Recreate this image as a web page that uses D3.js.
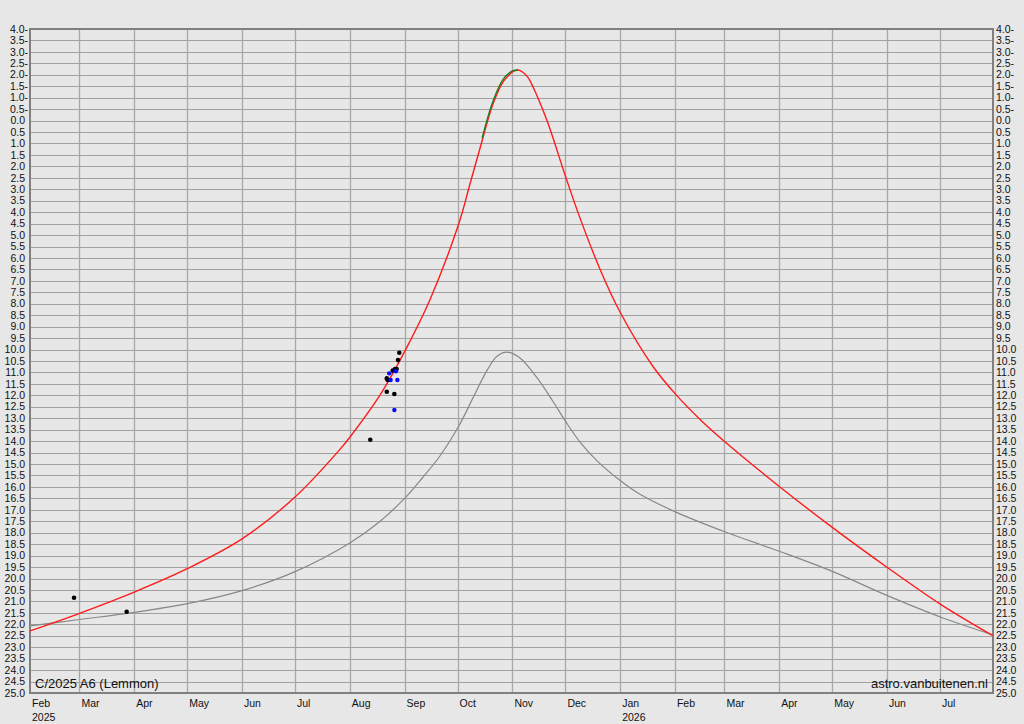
<!DOCTYPE html>
<html>
<head>
<meta charset="utf-8">
<script src="https://cdn.jsdelivr.net/npm/d3@7"></script>
<style>
  html, body { margin: 0; padding: 0; background: #e7e7e7; }
  svg { display: block; }
  text { font-family: "Liberation Sans", Arial, sans-serif; fill: #111; }
</style>
</head>
<body>
<svg id="chart" width="1024" height="724"></svg>
<script>
// ---- data ----
const redDates = ["2025-02-01","2025-03-01","2025-04-01","2025-05-01","2025-06-01","2025-07-01","2025-07-26T10:00","2025-08-01","2025-08-18","2025-08-25T10:00","2025-09-01T05:00","2025-09-15T10:00","2025-10-01T20:00","2025-10-08","2025-10-14T20:00","2025-10-21","2025-10-26T17:00","2025-10-30T14:00","2025-11-01T05:00","2025-11-04T05:00","2025-11-06T22:00","2025-11-09T17:00","2025-11-12T17:00","2025-11-20T14:00","2025-12-01T07:00","2025-12-09T07:00","2025-12-20T14:00","2025-12-31T22:00","2026-01-19T14:00","2026-02-01T14:00","2026-02-15T05:00","2026-03-01T22:00","2026-04-01T10:00","2026-05-01T10:00","2026-06-01T14:00","2026-07-01T14:00","2026-07-31"];
const redMags  = [22.29,21.52,20.59,19.57,18.27,16.44,14.36,13.83,12.00,11.03,10.06,7.81,4.46,2.77,0.89,-0.72,-1.69,-2.03,-2.14,-2.21,-2.11,-1.90,-1.47,0.00,2.49,4.26,6.49,8.36,10.74,11.97,13.05,14.07,16.00,17.79,19.54,21.14,22.50];

const greenDates = ["2025-10-14T20:00","2025-10-21","2025-10-26T17:00","2025-10-30T14:00","2025-11-01T05:00","2025-11-04T05:00"];
const greenMags  = [0.77,-0.85,-1.80,-2.10,-2.18,-2.21];

const greyDates = ["2025-02-01","2025-03-01","2025-04-01","2025-05-01","2025-06-01","2025-07-01","2025-08-01","2025-08-18","2025-09-01","2025-09-11","2025-09-21","2025-10-01T20:00","2025-10-09T17:00","2025-10-17T14:00","2025-10-23T07:00","2025-10-28T22:00","2025-11-05T07:00","2025-11-14T22:00","2025-11-24","2025-12-01T07:00","2025-12-09T07:00","2025-12-18T22:00","2026-01-01","2026-01-12T05:00","2026-02-01T14:00","2026-03-01T22:00","2026-04-01T10:00","2026-05-01T10:00","2026-06-01T14:00","2026-07-01T14:00","2026-07-31"];
const greyMags  = [22.07,21.79,21.48,21.10,20.53,19.70,18.45,17.51,16.50,15.61,14.65,13.32,12.11,10.92,10.29,10.11,10.37,11.23,12.27,13.16,14.04,14.86,15.72,16.32,17.10,17.98,18.82,19.70,20.76,21.69,22.46];

const blackObsDates = ["2025-02-25T22:00","2025-03-27T17:00","2025-08-12T14:00","2025-08-21T22:00","2025-08-21T22:00","2025-08-22T10:00","2025-08-25T07:00","2025-08-26T14:00","2025-08-27T12:00","2025-08-28T07:00","2025-08-29T00:00","2025-08-26T05:00"];
const blackObsMags  = [20.84,21.45,13.94,11.84,11.26,11.33,10.92,10.85,10.85,10.46,10.14,11.94];

const blueObsDates = ["2025-08-23T07:00","2025-08-24T02:00","2025-08-27T02:00","2025-08-27T22:00","2025-08-26T05:00"];
const blueObsMags  = [11.04,11.33,10.95,11.33,12.64];

const yTicks = d3.range(-4, 25.001, 0.5);
const monthStarts = d3.timeMonth.range(new Date(2025,1,1), new Date(2026,6,2));
const monthNames = ["Jan","Feb","Mar","Apr","May","Jun","Jul","Aug","Sep","Oct","Nov","Dec"];

const title = "C/2025 A6 (Lemmon)";
const credit = "astro.vanbuitenen.nl";

// ---- layout ----
const svg = d3.select("#chart");
const L = 30, R = 993, T = 29, B = 693;
const x = d3.scaleTime().domain([new Date(2025,1,1), new Date(2026,6,31)]).range([L, R]);
const y = d3.scaleLinear().domain([-4, 25]).range([T, B]);
const P = s => new Date(s.length === 10 ? s + "T00:00" : s);

svg.append("rect").attr("width",1024).attr("height",724).attr("fill","#e7e7e7");

// grid
const g = svg.append("g");
g.selectAll(".hg").data(yTicks).join("line")
  .attr("x1", L).attr("x2", R)
  .attr("y1", d => Math.round(y(d)) + 0.5).attr("y2", d => Math.round(y(d)) + 0.5)
  .attr("stroke", "#a0a0a0").attr("stroke-width", 1);
g.selectAll(".vg").data(monthStarts.slice(1)).join("line")
  .attr("x1", d => Math.round(x(d)) + 0.5).attr("x2", d => Math.round(x(d)) + 0.5)
  .attr("y1", T).attr("y2", B)
  .attr("stroke", "#a8a8a8").attr("stroke-width", 1.3);

// frame
svg.append("rect").attr("x", L).attr("y", T).attr("width", R - L).attr("height", B - T)
  .attr("fill", "none").attr("stroke", "#7f7f7f").attr("stroke-width", 2);

// clip
svg.append("clipPath").attr("id","clip").append("rect")
  .attr("x", L).attr("y", T).attr("width", R - L).attr("height", B - T);

const line = d3.line().x(d => x(d[0])).y(d => y(d[1])).curve(d3.curveCatmullRom.alpha(0.5));
const plot = svg.append("g").attr("clip-path","url(#clip)");

plot.append("path").datum(greyDates.map((d,i)=>[P(d), greyMags[i]]))
  .attr("d", line).attr("fill","none").attr("stroke","#888").attr("stroke-width",1.2);
plot.append("path").datum(redDates.map((d,i)=>[P(d), redMags[i]]))
  .attr("d", line).attr("fill","none").attr("stroke","#ff1a1a").attr("stroke-width",1.4);
plot.append("path").datum(greenDates.map((d,i)=>[P(d), greenMags[i]]))
  .attr("d", line).attr("fill","none").attr("stroke","#1a7f1a").attr("stroke-width",1.3);

plot.selectAll(".bo").data(blackObsDates.map((d,i)=>[P(d), blackObsMags[i]])).join("circle")
  .attr("cx", d => x(d[0])).attr("cy", d => y(d[1])).attr("r", 2.3).attr("fill", "#000");
plot.selectAll(".bl").data(blueObsDates.map((d,i)=>[P(d), blueObsMags[i]])).join("circle")
  .attr("cx", d => x(d[0])).attr("cy", d => y(d[1])).attr("r", 2.2).attr("fill", "#0a0aff");

// y labels
const fmt = v => Math.abs(v).toFixed(1) + (v < 0 ? "-" : "");
svg.selectAll(".yl").data(yTicks).join("text")
  .attr("x", d => d < 0 ? 28 : 25).attr("y", d => y(d)).attr("dy", "0.35em")
  .attr("text-anchor", "end").attr("font-size", 10.5).text(fmt);
svg.selectAll(".yr").data(yTicks).join("text")
  .attr("x", 996).attr("y", d => y(d)).attr("dy", "0.35em")
  .attr("text-anchor", "start").attr("font-size", 10.5).text(fmt);

// x labels
svg.selectAll(".xl").data(monthStarts).join("text")
  .attr("x", d => x(d) + 2).attr("y", 707)
  .attr("font-size", 10.5).text(d => monthNames[d.getMonth()]);
svg.selectAll(".yrl").data(monthStarts.filter(d => d.getMonth() === 0 || +d === +monthStarts[0])).join("text")
  .attr("x", d => x(d) + 2).attr("y", 721)
  .attr("font-size", 10.5).text(d => d.getFullYear());

svg.append("text").attr("x", 35).attr("y", 688).attr("font-size", 13).text(title);
svg.append("text").attr("x", 988).attr("y", 688).attr("text-anchor","end").attr("font-size", 13).text(credit);
</script>
</body>
</html>
